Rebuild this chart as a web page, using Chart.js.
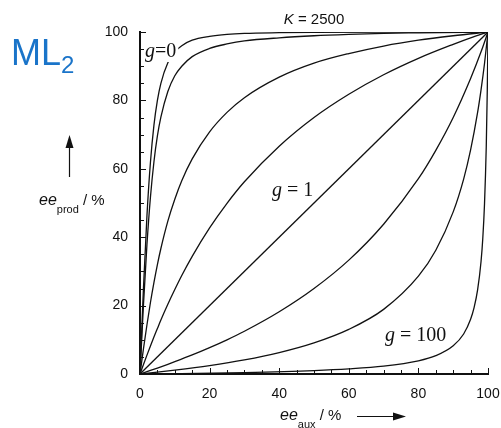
<!DOCTYPE html>
<html>
<head>
<meta charset="utf-8">
<script src="https://cdn.jsdelivr.net/npm/chart.js@4.4.0/dist/chart.umd.min.js"></script>
<style>
  html, body { margin: 0; padding: 0; background: #fff; }
  #wrap { width: 501px; height: 428px; position: relative; }
</style>
</head>
<body>
<div id="wrap"><canvas id="chart" width="501" height="428"></canvas></div>
<script>
// g values shown in the figure (only 0, 1 and 100 are labelled)
const curveG = ['0', '0.01', '0.1', '1/3', '1', '3', '10', '100'];

// ee_aux (x) and ee_prod (y), in % for each curve
const auxG0 = [0, 0.5, 1, 2, 3, 4, 5, 6, 8, 10, 12, 15, 20, 25, 30, 40, 50, 70, 100];
const prodG0 = [0, 12.9, 25.2, 46.3, 61.9, 72.7, 80, 85, 91, 94.2, 96, 97.6, 98.7, 99.3, 99.6, 99.8, 99.9, 100, 100];

const auxG001 = [0, 0.5, 1, 2, 3, 4, 5, 6, 8, 10, 12, 15, 20, 25, 30, 40, 50, 60, 70, 80, 100];
const prodG001 = [0, 10.3, 20.3, 37.9, 51.7, 62, 69.6, 75.1, 82.6, 87.2, 90, 92.8, 95.2, 96.5, 97.4, 98.3, 98.9, 99.3, 99.6, 99.75, 100];

const auxG01 = [0, 0.5, 1, 2, 3, 4, 5, 6, 8, 10, 12, 15, 20, 25, 30, 40, 50, 60, 70, 80, 90, 100];
const prodG01 = [0, 3.7, 7.4, 14.4, 20.9, 26.7, 32, 36.7, 44.7, 51.1, 56.5, 62.9, 70.8, 76.5, 80.8, 86.8, 90.9, 93.7, 95.9, 97.6, 98.9, 100];

const auxG03 = [0, 1, 2, 3, 4, 5, 6, 8, 10, 12, 15, 20, 25, 30, 40, 50, 60, 70, 80, 90, 95, 100];
const prodG03 = [0, 2.78, 5.52, 8.21, 10.8, 13.3, 15.8, 20.4, 24.7, 28.8, 34.4, 42.7, 49.9, 56.2, 66.6, 75, 81.8, 87.5, 92.3, 96.4, 98.3, 100];

const auxG1 = [0, 100];
const prodG1 = [0, 100];

const auxG3 = [0, 1, 3, 5, 8, 10, 15, 20, 25, 30, 40, 50, 60, 70, 80, 85, 90, 95, 98, 100];
const prodG3 = [0, 0.34, 1.03, 1.74, 2.83, 3.59, 5.57, 7.71, 10, 12.5, 18.2, 25, 33.3, 43.8, 57.1, 65.4, 75, 86.4, 94.2, 100];

const auxG10 = [0, 5, 10, 20, 30, 40, 50, 60, 70, 80, 85, 90, 93, 95, 97, 98, 99, 100];
const prodG10 = [0, 0.53, 1.11, 2.45, 4.12, 6.26, 9.1, 13.05, 18.9, 28.6, 36.2, 47.4, 57, 65.5, 76.4, 83.1, 90.8, 100];

const auxG100 = [0, 10, 30, 50, 60, 70, 80, 85, 90, 93, 95, 96, 97, 98, 98.5, 99, 99.5, 99.8, 100];
const prodG100 = [0, 0.11, 0.43, 0.99, 1.48, 2.28, 3.85, 5.36, 8.26, 11.7, 16, 19.4, 24.5, 32.9, 39.6, 49.8, 66.5, 83.3, 100];

const axisTicks = [0, 20, 40, 60, 80, 100];

const curveX = [auxG0, auxG001, auxG01, auxG03, auxG1, auxG3, auxG10, auxG100];
const curveY = [prodG0, prodG001, prodG01, prodG03, prodG1, prodG3, prodG10, prodG100];

// Turn the x/y lists into point objects for a scatter-with-lines chart
function toPoints(xs, ys) {
  return xs.map((x, i) => ({ x: x, y: ys[i] }));
}

const datasets = curveG.map((g, i) => ({
  label: 'g = ' + g,
  data: toPoints(curveX[i], curveY[i]),
  showLine: true,
  borderColor: '#111',
  borderWidth: 1.3,
  pointRadius: 0,
  cubicInterpolationMode: 'monotone',
  fill: false
}));

// Inward minor/major tick marks on both axes
const innerTicks = {
  id: 'innerTicks',
  afterDraw(chart) {
    const { ctx, chartArea, scales } = chart;
    ctx.save();
    ctx.strokeStyle = '#111';
    ctx.lineWidth = 1;
    for (let v = 0; v <= 100; v += 5) {
      const len = v % 20 === 0 ? 6 : 4;
      const px = Math.round(scales.x.getPixelForValue(v)) + 0.5;
      ctx.beginPath();
      ctx.moveTo(px, chartArea.bottom);
      ctx.lineTo(px, chartArea.bottom - len);
      ctx.stroke();
      const py = Math.round(scales.y.getPixelForValue(v)) + 0.5;
      ctx.beginPath();
      ctx.moveTo(chartArea.left, py);
      ctx.lineTo(chartArea.left + len, py);
      ctx.stroke();
    }
    ctx.restore();
  }
};

// Draw a run of text pieces (italic / upright / subscript) starting at x
function drawRun(ctx, x, y, pieces) {
  let cx = x;
  pieces.forEach(p => {
    ctx.font = p.font;
    ctx.fillText(p.text, cx, y + (p.dy || 0));
    cx += ctx.measureText(p.text).width;
  });
  return cx;
}

function measureRun(ctx, pieces) {
  let w = 0;
  pieces.forEach(p => { ctx.font = p.font; w += ctx.measureText(p.text).width; });
  return w;
}

// Titles, axis names, arrows and curve labels
const annotations = {
  id: 'annotations',
  afterDraw(chart) {
    const { ctx, scales } = chart;
    const sans = '"Liberation Sans", Arial, sans-serif';
    ctx.save();
    ctx.textBaseline = 'alphabetic';
    ctx.textAlign = 'left';
    ctx.fillStyle = '#111';

    // K = 2500 above the plot
    const kPieces = [
      { text: 'K', font: 'italic 15px ' + sans },
      { text: ' = 2500', font: '15px ' + sans }
    ];
    const kw = measureRun(ctx, kPieces);
    drawRun(ctx, (scales.x.left + scales.x.right) / 2 - kw / 2, 24, kPieces);

    // ML2 in blue
    ctx.fillStyle = '#1a74c9';
    drawRun(ctx, 11, 65, [
      { text: 'ML', font: '36px ' + sans },
      { text: '2', font: '24px ' + sans, dy: 8 }
    ]);
    ctx.fillStyle = '#111';

    // y axis name with arrow
    drawRun(ctx, 39, 205, [
      { text: 'ee', font: 'italic 16px ' + sans },
      { text: 'prod', font: '11px ' + sans, dy: 8 },
      { text: ' / %', font: '15px ' + sans }
    ]);
    ctx.strokeStyle = '#111';
    ctx.lineWidth = 1.2;
    ctx.beginPath();
    ctx.moveTo(69.5, 177);
    ctx.lineTo(69.5, 142);
    ctx.stroke();
    ctx.beginPath();
    ctx.moveTo(69.5, 135);
    ctx.lineTo(65.5, 148);
    ctx.lineTo(73.5, 148);
    ctx.closePath();
    ctx.fill();

    // x axis name with arrow
    drawRun(ctx, 280, 420, [
      { text: 'ee', font: 'italic 16px ' + sans },
      { text: 'aux', font: '11px ' + sans, dy: 8 },
      { text: ' / %', font: '15px ' + sans }
    ]);
    ctx.beginPath();
    ctx.moveTo(357, 416.5);
    ctx.lineTo(398, 416.5);
    ctx.stroke();
    ctx.beginPath();
    ctx.moveTo(406, 416.5);
    ctx.lineTo(393, 412.5);
    ctx.lineTo(393, 420.5);
    ctx.closePath();
    ctx.fill();

    // curve labels, serif with italic g
    const serif = '"Liberation Serif", "Times New Roman", serif';
    const labels = [
      { x: 145, y: 57, parts: ['g', '=0'], box: true },
      { x: 272, y: 196, parts: ['g', ' = 1'], box: false },
      { x: 385, y: 341, parts: ['g', ' = 100'], box: false }
    ];
    labels.forEach(l => {
      const pieces = [
        { text: l.parts[0], font: 'italic 20px ' + serif },
        { text: l.parts[1], font: '20px ' + serif }
      ];
      if (l.box) {
        const w = measureRun(ctx, pieces);
        ctx.fillStyle = '#fff';
        ctx.fillRect(l.x - 1, l.y - 14, w + 3, 19);
      }
      ctx.fillStyle = '#111';
      drawRun(ctx, l.x, l.y, pieces);
    });
    ctx.restore();
  }
};

const tickFont = { family: '"Liberation Sans", Arial, sans-serif', size: 14 };

new Chart(document.getElementById('chart').getContext('2d'), {
  type: 'scatter',
  data: { datasets: datasets },
  options: {
    responsive: false,
    animation: false,
    layout: { padding: { left: 0, right: 13, top: 32, bottom: 0 } },
    plugins: {
      legend: { display: false },
      tooltip: { enabled: false },
      title: { display: false }
    },
    scales: {
      x: {
        type: 'linear',
        min: 0,
        max: 100,
        afterFit: s => { s.height = 54; s.paddingLeft = 0; s.paddingRight = 0; },
        afterBuildTicks: s => { s.ticks = axisTicks.map(v => ({ value: v })); },
        ticks: { color: '#111', font: tickFont, padding: 12, maxRotation: 0 },
        grid: { display: false, drawTicks: false },
        border: { display: true, color: '#111', width: 2 }
      },
      y: {
        type: 'linear',
        min: 0,
        max: 100,
        afterFit: s => { s.width = 140; s.paddingTop = 0; s.paddingBottom = 0; },
        afterBuildTicks: s => { s.ticks = axisTicks.map(v => ({ value: v })); },
        ticks: { color: '#111', font: tickFont, padding: 12 },
        grid: { display: false, drawTicks: false },
        border: { display: true, color: '#111', width: 2 }
      }
    }
  },
  plugins: [innerTicks, annotations]
});
</script>
</body>
</html>
